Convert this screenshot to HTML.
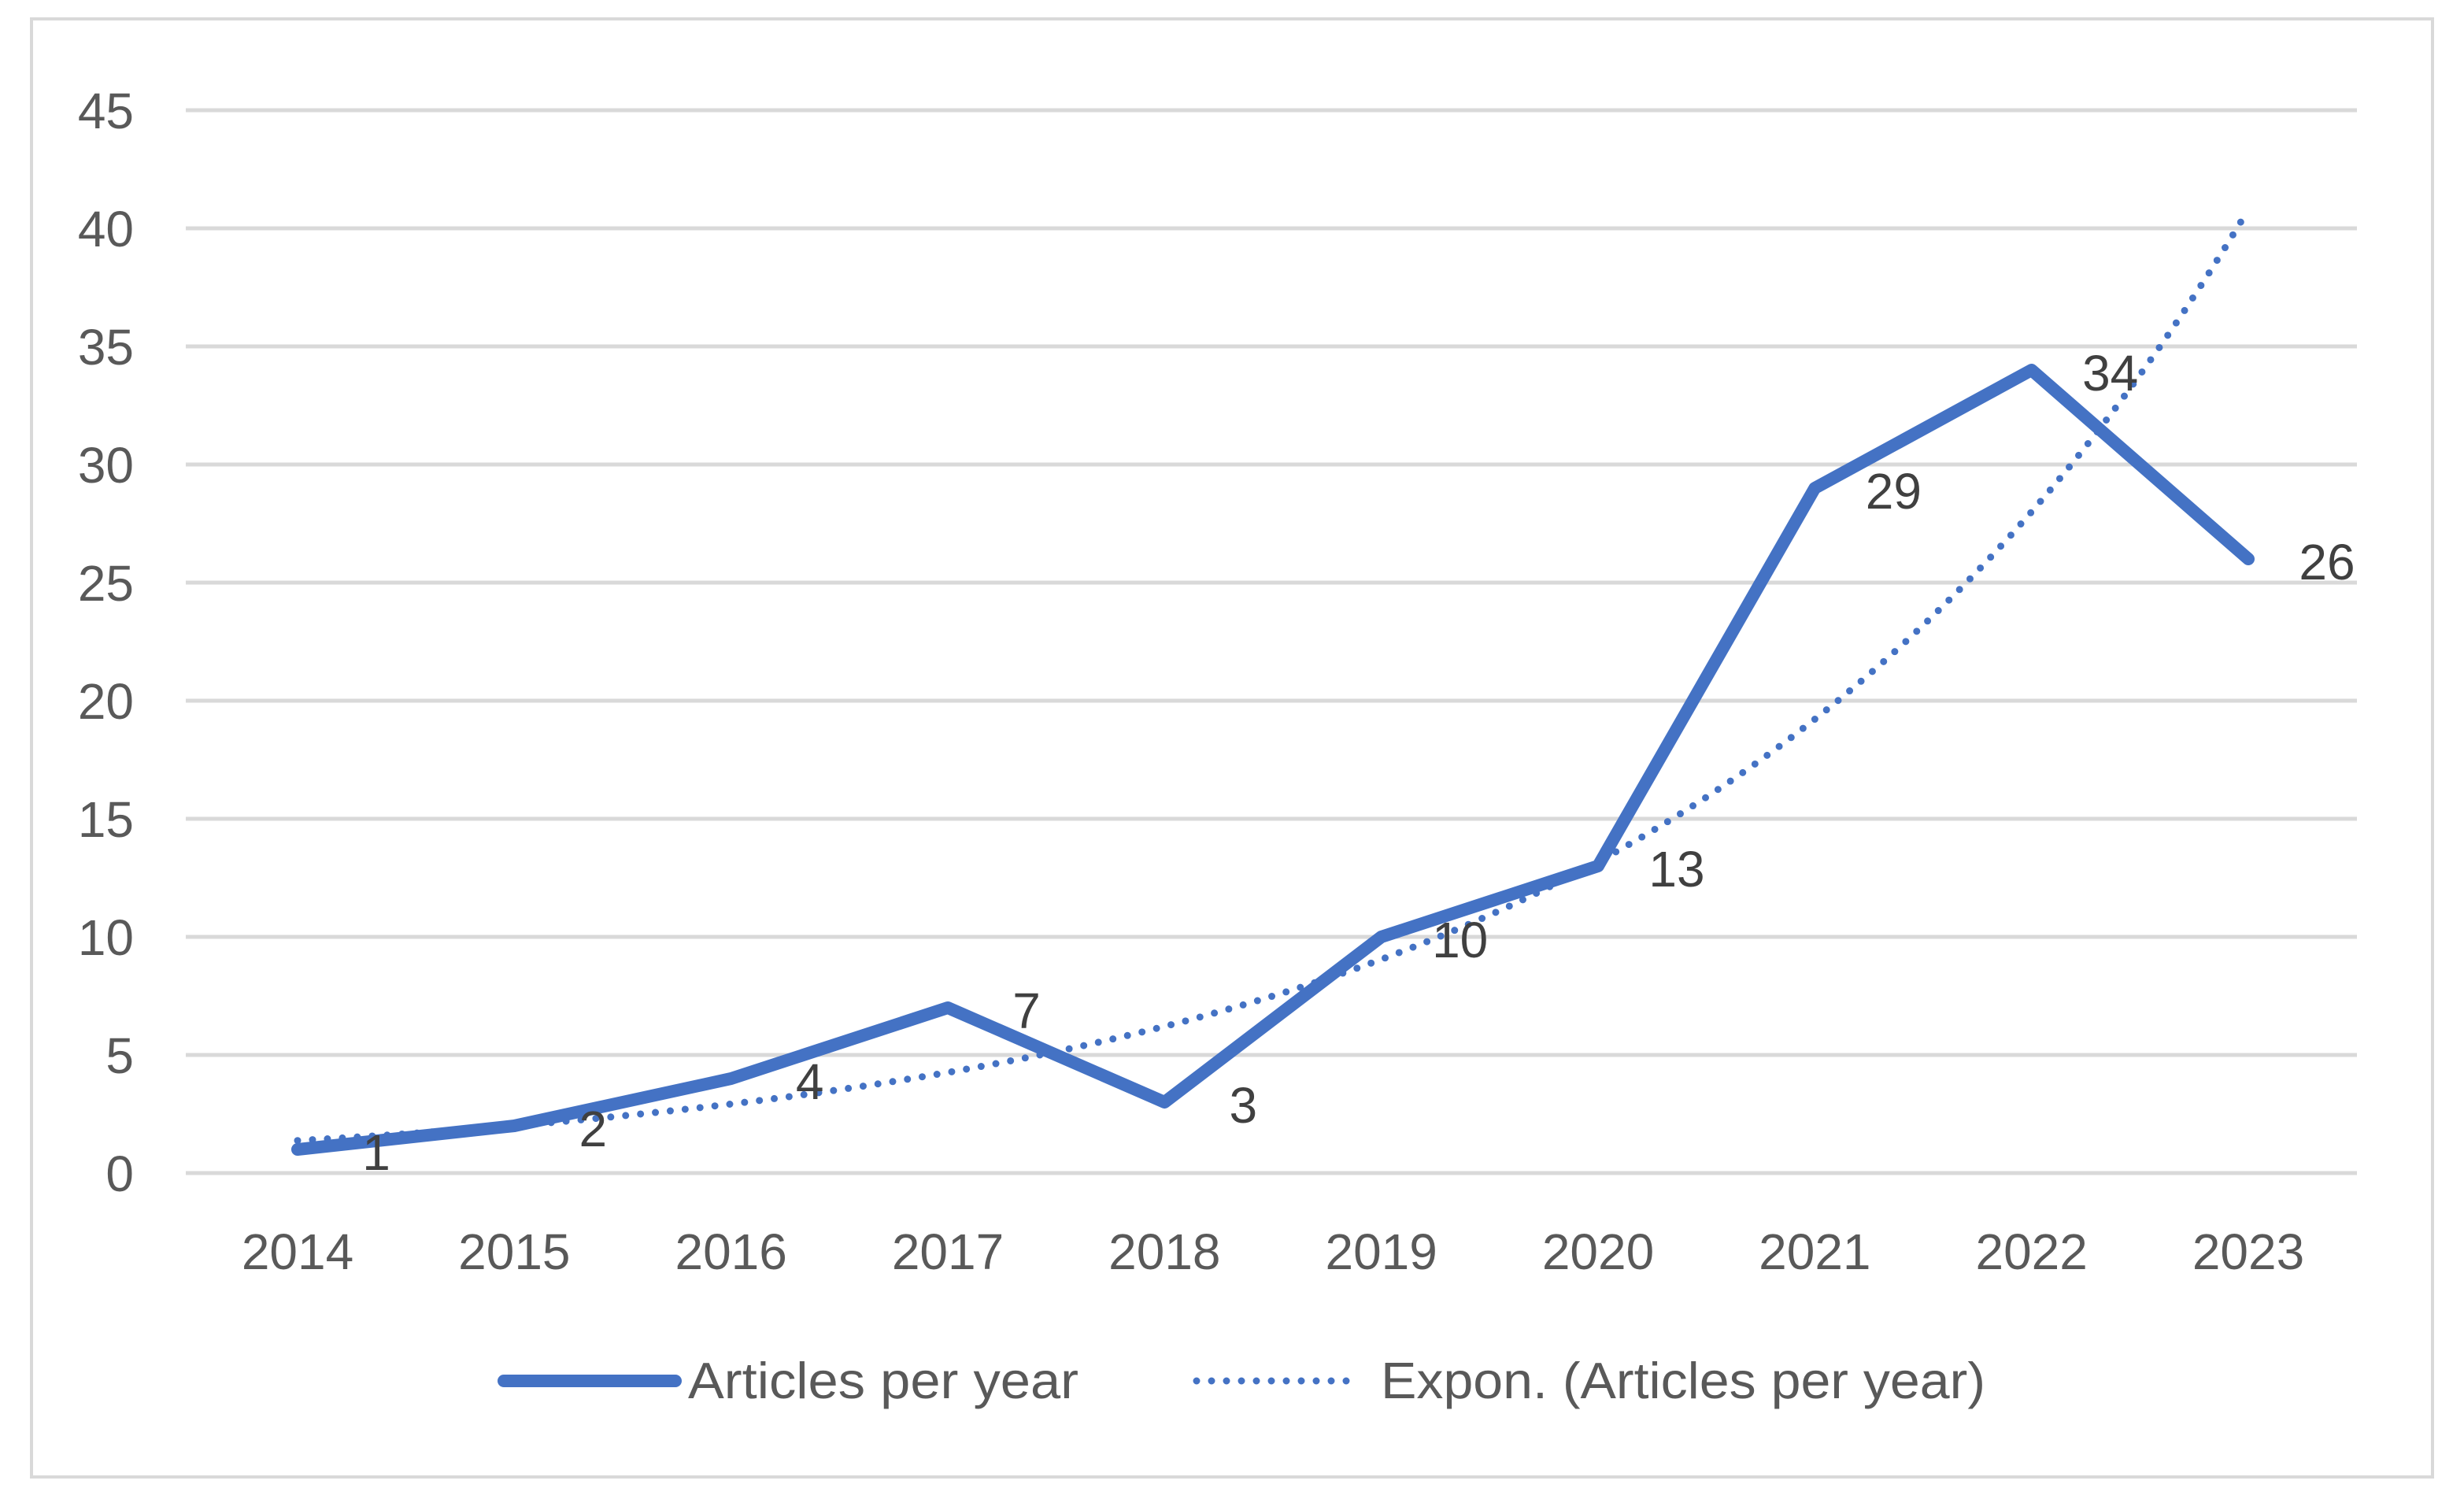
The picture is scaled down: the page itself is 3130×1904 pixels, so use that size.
<!DOCTYPE html>
<html><head><meta charset="utf-8"><style>
html,body{margin:0;padding:0;background:#fff;}
svg{display:block;font-family:"Liberation Sans",Calibri,sans-serif;}
</style></head><body>
<svg id="chart" width="3130" height="1904" viewBox="0 0 3130 1904" xmlns="http://www.w3.org/2000/svg">
<rect x="40" y="24" width="3050" height="1852" fill="#fff" stroke="#d9d9d9" stroke-width="4"/>
<g id="grid"></g><g id="yticks"></g><g id="xticks"></g>
<g id="series"></g><g id="labels"></g>
<g>
<line x1="640" y1="1754" x2="858" y2="1754" stroke="#4472C4" stroke-width="16" stroke-linecap="round"/>
<text x="874" y="1776" font-size="65" fill="#595959" textLength="496" lengthAdjust="spacingAndGlyphs">Articles per year</text>
<line x1="1520" y1="1754" x2="1722" y2="1754" stroke="#4472C4" stroke-width="9" stroke-dasharray="0 19" stroke-linecap="round"/>
<text x="1754" y="1776" font-size="65" fill="#595959" textLength="768" lengthAdjust="spacingAndGlyphs">Expon. (Articles per year)</text>
</g>
</svg>
<script>
const categories=["2014","2015","2016","2017","2018","2019","2020","2021","2022","2023"];
const articles=[1,2,4,7,3,10,13,29,34,26];
const yTicks=[0,5,10,15,20,25,30,35,40,45];
const NS="http://www.w3.org/2000/svg";
const y0=1490,yTop=140,yMax=45,x0=378,x1=2856,gl=236,gr=2994;
const Y=v=>y0-(v/yMax)*(y0-yTop);
const X=i=>x0+i*(x1-x0)/(categories.length-1);
function mk(t,a,p){const e=document.createElementNS(NS,t);for(const k in a)e.setAttribute(k,a[k]);p.appendChild(e);return e;}
const grid=document.getElementById('grid'),yt=document.getElementById('yticks'),xt=document.getElementById('xticks');
yTicks.forEach(v=>{
 const l=mk('line',{x1:gl,x2:gr,y1:Y(v),y2:Y(v),stroke:'#d9d9d9','stroke-width':5},grid);
 
 
 const t=mk('text',{x:170,y:Y(v)+23,'font-size':64,fill:'#595959','text-anchor':'end'},yt);t.textContent=v;
 
 
});
categories.forEach((c,i)=>{
 const t=mk('text',{x:X(i),y:1612,'font-size':64,fill:'#595959','text-anchor':'middle'},xt);t.textContent=c;
 
 
});
const n=articles.length;let mx=0,my=0;articles.forEach((v,i)=>{mx+=i+1;my+=Math.log(v);});mx/=n;my/=n;
let sxy=0,sxx=0;articles.forEach((v,i)=>{sxy+=(i+1-mx)*(Math.log(v)-my);sxx+=(i+1-mx)**2;});
const b=sxy/sxx,a=my-b*mx;
const s=document.getElementById('series');
let td='';for(let k=0;k<=90;k++){const xi=k/10;const v=Math.exp(a+b*(xi+1));td+=(k?'L':'M')+(x0+xi*(x1-x0)/9).toFixed(1)+' '+Y(v).toFixed(1);}
const tr=mk('path',{d:td,fill:'none',stroke:'#4472C4','stroke-width':9,'stroke-dasharray':'0 19','stroke-linecap':'round'},s);


const ld=articles.map((v,i)=>(i?'L':'M')+X(i)+' '+Y(v)).join('');
const ln=mk('path',{d:ld,fill:'none',stroke:'#4472C4','stroke-width':16,'stroke-linejoin':'round','stroke-linecap':'round'},s);


const lb=document.getElementById('labels');
articles.forEach((v,i)=>{
 const t=mk('text',{x:X(i)+100,y:Y(v)+26,'font-size':64,fill:'#404040','text-anchor':'middle'},lb);t.textContent=v;
 
 
});
</script>
</body></html>
